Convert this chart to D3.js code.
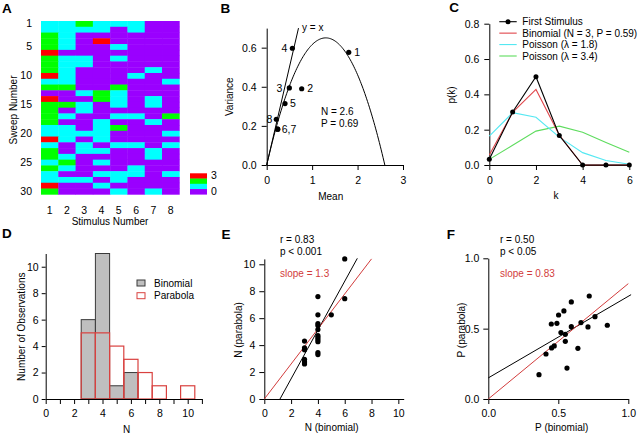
<!DOCTYPE html>
<html><head><meta charset="utf-8">
<script src="https://cdn.jsdelivr.net/npm/d3@7"></script>
<style>
body{margin:0;background:#fff;}
svg{font-family:"Liberation Sans",Arial,Helvetica,sans-serif;}
</style></head><body>
<svg id="c" width="640" height="434"></svg>
<script>
// ---------------- DATA ----------------
// Panel A: number of events per sweep (rows) and stimulus (columns)
const stimuli = [1,2,3,4,5,6,7,8];
const sweeps = [1,2,3,4,5,6,7,8,9,10,11,12,13,14,15,16,17,18,19,20,21,22,23,24,25,26,27,28,29,30];
const sweepCounts = [
 [1,1,2,1,1,1,0,0],
 [1,1,1,1,0,1,0,0],
 [2,1,0,0,0,0,0,0],
 [2,1,0,3,0,0,0,0],
 [2,1,0,0,1,0,0,0],
 [3,0,0,0,0,0,0,0],
 [2,1,1,0,1,0,0,0],
 [2,1,1,0,0,0,0,0],
 [2,1,0,0,0,0,1,0],
 [3,1,0,0,0,1,0,0],
 [1,1,0,0,0,0,0,1],
 [2,2,0,0,2,0,0,0],
 [0,0,1,2,1,0,0,0],
 [3,0,0,2,1,0,1,0],
 [2,2,1,0,1,0,1,0],
 [2,0,1,0,0,0,0,0],
 [2,1,0,0,1,1,0,2],
 [2,0,0,1,0,0,1,0],
 [1,1,0,1,2,0,0,0],
 [1,1,1,1,0,0,0,1],
 [3,1,0,1,0,0,0,0],
 [1,0,1,0,1,1,0,1],
 [2,0,1,1,0,0,1,0],
 [2,1,0,0,0,0,1,0],
 [1,2,0,1,0,0,0,0],
 [2,1,0,0,0,1,0,0],
 [1,0,0,1,1,1,0,1],
 [1,1,1,0,1,0,0,0],
 [3,0,0,1,0,0,0,0],
 [2,0,0,0,1,0,1,0]
];
const countLevels = [0,1,2,3];
const countColors = ["#9a00ff","#00ffff","#00ff00","#ff0000"];

// Panel B: mean / variance per stimulus
const bMeans  = [1.806, 0.770, 0.498, 0.565, 0.403, 0.242, 0.242, 0.212];
const bVars   = [0.576, 0.390, 0.394, 0.597, 0.314, 0.183, 0.183, 0.234];
const bLabels = ["1","2","3","4","5","6,7","","8"];
const bFitN = 2.6;
const bFitP = 0.69;

// Panel C: probability distributions
const cK = [0,1,2,3,4,5,6];
const cFirst    = [0.033, 0.300, 0.500, 0.167, 0, 0, 0];
const cBinomial = [0.057, 0.298, 0.428, 0.170, 0, 0, 0];
const cPois18   = [0.164, 0.296, 0.270, 0.158, 0.070, 0.025, 0.004];
const cPois34   = [0.032, 0.112, 0.192, 0.220, 0.185, 0.127, 0.072];
const cLegend = ["First Stimulus","Binomial (N = 3, P = 0.59)","Poisson (\u03bb = 1.8)","Poisson (\u03bb = 3.4)"];

// Panel D: histograms of N
const dBinomBins   = [3,4,5,6];
const dBinomCounts = [6,11,1,2];
const dParabBins   = [3,4,5,6,7,8,9,10];
const dParabCounts = [5,5,4,3,2,1,0,1];

// Panel E: N binomial vs N parabola
const eBinom = [3,3,3,3,3,3, 4,4,4,4,4,4,4,4,4,4,4, 5, 6,6];
const eParab = [4.3,3.8,3.65,2.95,2.75,2.6, 7.6,6.25,5.6,5.45,5.15,4.7,4.55,4.4,4.25,3.45,3.3, 6.25, 10.4,7.45];
const eFitBlack = {slope:1.81, intercept:-2.12, x0:1.17, x1:6.94};
const eFitRed   = {slope:1.3, intercept:0, x0:0, x1:8.0};

// Panel F: P binomial vs P parabola
const fBinom = [0.362,0.412,0.450,0.452,0.471,0.490,0.502,0.519,0.540,0.550,0.550,0.562,0.593,0.593,0.640,0.662,0.712,0.721,0.762,0.850];
const fParab = [0.173,0.320,0.533,0.363,0.377,0.538,0.597,0.472,0.626,0.460,0.410,0.220,0.690,0.514,0.360,0.543,0.512,0.732,0.585,0.524];
const fFitBlack = {slope:0.58, intercept:0.15, x0:0, x1:1.02};
const fFitRed   = {slope:0.82, intercept:0, x0:0, x1:1.0};

// ---------------- DRAW ----------------
const svg = d3.select("#c");
const FONT = "Liberation Sans, Arial, Helvetica, sans-serif";

function txt(x, y, s, o = {}) {
  const t = svg.append("text").attr("x", x).attr("y", y).text(s)
    .attr("font-size", o.fs || 10).attr("text-anchor", o.anchor || "start")
    .attr("fill", o.fill || "#000").attr("font-family", FONT);
  if (o.bold) t.attr("font-weight", "bold");
  if (o.rot) t.attr("transform", `rotate(-90,${x},${y})`);
  if (o.dy) t.attr("dy", o.dy);
  return t;
}
function styleAxis(g, fs = 10.5) {
  g.attr("font-size", fs).attr("font-family", FONT);
  g.selectAll("text").attr("fill", "#000");
  g.selectAll("line,path").attr("stroke", "#000");
  return g;
}

// ===== Panel A =====
const xA = d3.scaleBand().domain(stimuli).range([41, 179.3]);
const yA = d3.scaleBand().domain(sweeps).range([21, 194.3]);
const colA = d3.scaleOrdinal().domain(countLevels).range(countColors);
sweepCounts.forEach((row, i) => {
  svg.append("g").selectAll("rect").data(row).join("rect")
    .attr("x", (d, j) => xA(stimuli[j]))
    .attr("y", yA(sweeps[i]))
    .attr("width", xA.bandwidth() + 0.4)
    .attr("height", yA.bandwidth() + 0.4)
    .attr("fill", d => colA(d));
});
let g = svg.append("g").attr("transform", "translate(41,0)")
  .call(d3.axisLeft(yA).tickValues([1,5,10,15,20,25,30]).tickSize(0).tickPadding(9));
styleAxis(g); g.select(".domain").remove();
g = svg.append("g").attr("transform", "translate(0,194.3)")
  .call(d3.axisBottom(xA).tickSize(0).tickPadding(12));
styleAxis(g); g.select(".domain").remove();
txt(110, 225, "Stimulus Number", {anchor: "middle"});
txt(13, 110, "Sweep Number", {anchor: "middle", rot: true, dy: "0.35em"});
// color bar
const yCB = d3.scaleBand().domain([3,2,1,0]).range([173.3, 194.3]);
svg.append("g").selectAll("rect").data([3,2,1,0]).join("rect")
  .attr("x", 190).attr("width", 17)
  .attr("y", d => yCB(d)).attr("height", yCB.bandwidth() + 0.3)
  .attr("fill", d => colA(d));
g = svg.append("g").attr("transform", "translate(207,0)")
  .call(d3.axisRight(yCB).tickValues([3,0]).tickSize(0).tickPadding(4));
styleAxis(g); g.select(".domain").remove();
txt(2, 13.3, "A", {fs: 13.5, bold: true});

// ===== Panel B =====
const xB = d3.scaleLinear().domain([0,3]).range([266.7, 403]);
const yB = d3.scaleLinear().domain([0,0.7]).range([165, 28.1]);
g = svg.append("g").attr("transform", "translate(0,165)")
  .call(d3.axisBottom(xB).tickValues([0,1,2,3]).tickFormat(d3.format("d")).tickSize(5).tickPadding(7).tickSizeOuter(0));
styleAxis(g);
g = svg.append("g").attr("transform", "translate(266.7,0)")
  .call(d3.axisLeft(yB).tickValues([0,0.2,0.4,0.6]).tickFormat(d3.format(".1f")).tickSize(5).tickPadding(5).tickSizeOuter(0));
styleAxis(g);
// y = x line
svg.append("path").datum([0, 0.7])
  .attr("d", d3.line().x(d => xB(d)).y(d => yB(d)))
  .attr("stroke", "#000").attr("fill", "none");
txt(302, 30.5, "y = x");
// parabola fit: var = mean - mean^2 / N
const bCurve = d3.range(0, 131).map(i => bFitN * i / 130).map(m => [m, m - m * m / bFitN]);
svg.append("path").datum(bCurve)
  .attr("d", d3.line().x(d => xB(d[0])).y(d => yB(d[1])))
  .attr("stroke", "#000").attr("fill", "none");
svg.append("g").selectAll("circle").data(bMeans).join("circle")
  .attr("cx", d => xB(d)).attr("cy", (d, i) => yB(bVars[i])).attr("r", 2.6).attr("fill", "#000");
const bLabelDx = [5.5, 5.5, -7, -5, 5, 4, 0, -4];
bMeans.forEach((m, i) => {
  if (!bLabels[i]) return;
  const dx = bLabelDx[i];
  txt(xB(m) + dx, yB(bVars[i]), bLabels[i], {anchor: dx > 0 ? "start" : "end", dy: "0.35em", fs: 10.5});
});
txt(321, 114.5, "N = " + bFitN);
txt(321, 127, "P = " + bFitP);
txt(330.7, 200, "Mean", {anchor: "middle"});
txt(230, 96.7, "Variance", {anchor: "middle", rot: true, dy: "0.35em"});
txt(220.5, 13.3, "B", {fs: 13.5, bold: true});

// ===== Panel C =====
const xC = d3.scaleLinear().domain([0,6]).range([489.3, 629.3]);
const yC = d3.scaleLinear().domain([0,0.8]).range([165, 23.7]);
g = svg.append("g").attr("transform", "translate(0,165)")
  .call(d3.axisBottom(xC).tickValues([0,2,4,6]).tickFormat(d3.format("d")).tickSize(5).tickPadding(7).tickSizeOuter(0));
styleAxis(g);
g = svg.append("g").attr("transform", "translate(489.3,0)")
  .call(d3.axisLeft(yC).tickValues([0,0.2,0.4,0.6,0.8]).tickFormat(d3.format(".1f")).tickSize(5).tickPadding(5).tickSizeOuter(0));
styleAxis(g);
const cSeries = [
  {vals: cPois34, color: "#5edc5e"},
  {vals: cPois18, color: "#55e8f2"},
  {vals: cBinomial, color: "#e0464b"},
  {vals: cFirst, color: "#000"}
];
const lineC = d3.line().x((d, i) => xC(cK[i])).y(d => yC(d));
cSeries.forEach(s => {
  svg.append("path").datum(s.vals).attr("d", lineC)
    .attr("stroke", s.color).attr("stroke-width", 1.1).attr("fill", "none");
});
svg.append("g").selectAll("circle").data(cFirst).join("circle")
  .attr("cx", (d, i) => xC(cK[i])).attr("cy", d => yC(d)).attr("r", 2.5).attr("fill", "#000");
const legColors = ["#000", "#e0464b", "#55e8f2", "#5edc5e"];
const legY = d3.scalePoint().domain(cLegend).range([21.7, 56]);
cLegend.forEach((lab, i) => {
  const y = legY(lab);
  svg.append("line").attr("x1", 499.3).attr("x2", 516.7).attr("y1", y).attr("y2", y)
    .attr("stroke", legColors[i]).attr("stroke-width", 1.1);
  if (i === 0) svg.append("circle").attr("cx", 508).attr("cy", y).attr("r", 2.5).attr("fill", "#000");
  txt(522.3, y, lab, {dy: "0.35em"});
});
txt(556, 198.5, "k", {anchor: "middle"});
txt(451.7, 95, "p(k)", {anchor: "middle", rot: true, dy: "0.35em"});
txt(449.3, 12, "C", {fs: 13.5, bold: true});

// ===== Panel D =====
const xD = d3.scaleLinear().domain([0,11]).range([45.7, 201.9]);
const yD = d3.scaleLinear().domain([0,11]).range([399, 253.5]);
svg.append("g").selectAll("rect").data(dBinomBins).join("rect")
  .attr("x", d => xD(d - 0.5)).attr("width", d => xD(d + 0.5) - xD(d - 0.5))
  .attr("y", (d, i) => yD(dBinomCounts[i])).attr("height", (d, i) => yD(0) - yD(dBinomCounts[i]))
  .attr("fill", "#bfbfbf").attr("stroke", "#3a3a3a").attr("stroke-width", 1);
svg.append("g").selectAll("rect").data(dParabBins.filter((d, i) => dParabCounts[i] > 0)).join("rect")
  .attr("x", d => xD(d - 0.5)).attr("width", d => xD(d + 0.5) - xD(d - 0.5))
  .attr("y", d => yD(dParabCounts[dParabBins.indexOf(d)]))
  .attr("height", d => yD(0) - yD(dParabCounts[dParabBins.indexOf(d)]))
  .attr("fill", "none").attr("stroke", "#d9413f").attr("stroke-width", 1.2);
g = svg.append("g").attr("transform", "translate(0,399)")
  .call(d3.axisBottom(xD).tickValues(d3.range(0, 12)).tickFormat(d => d % 2 === 0 && d <= 10 ? d : "").tickSize(5).tickPadding(6).tickSizeOuter(0));
styleAxis(g);
g = svg.append("g").attr("transform", "translate(45.7,0)")
  .call(d3.axisLeft(yD).tickValues([0,2,4,6,8,10]).tickSize(4).tickPadding(3).tickSizeOuter(0));
styleAxis(g);
svg.append("rect").attr("x", 137).attr("y", 280).attr("width", 8).attr("height", 6)
  .attr("fill", "#bfbfbf").attr("stroke", "#3a3a3a");
svg.append("rect").attr("x", 137).attr("y", 292.7).attr("width", 8).attr("height", 6)
  .attr("fill", "#fff").attr("stroke", "#d9413f");
txt(154, 283, "Binomial", {dy: "0.35em"});
txt(154, 295.7, "Parabola", {dy: "0.35em"});
txt(126.7, 432.5, "N", {anchor: "middle"});
txt(21.7, 326.7, "Number of Observations", {anchor: "middle", rot: true, dy: "0.35em"});
txt(2, 238, "D", {fs: 13.5, bold: true});

// ===== Panel E =====
const xE = d3.scaleLinear().domain([0,10.4]).range([264.3, 403.7]);
const yE = d3.scaleLinear().domain([0,10.4]).range([399, 258.9]);
g = svg.append("g").attr("transform", "translate(0,399)")
  .call(d3.axisBottom(xE).tickValues([0,2,4,6,8,10]).tickSize(5).tickPadding(6).tickSizeOuter(0));
styleAxis(g);
g = svg.append("g").attr("transform", "translate(264.3,0)")
  .call(d3.axisLeft(yE).tickValues([0,2,4,6,8,10]).tickSize(5).tickPadding(4).tickSizeOuter(0));
styleAxis(g);
[eFitBlack, eFitRed].forEach((f, k) => {
  svg.append("line")
    .attr("x1", xE(f.x0)).attr("y1", yE(f.intercept + f.slope * f.x0))
    .attr("x2", xE(f.x1)).attr("y2", yE(f.intercept + f.slope * f.x1))
    .attr("stroke", k === 0 ? "#000" : "#d23c3c").attr("stroke-width", 1);
});
svg.append("g").selectAll("circle").data(eBinom).join("circle")
  .attr("cx", d => xE(d)).attr("cy", (d, i) => yE(eParab[i])).attr("r", 2.6).attr("fill", "#000");
txt(280, 243, "r = 0.83");
txt(280, 255, "p < 0.001");
txt(280, 277, "slope = 1.3", {fill: "#d23c3c"});
txt(331.7, 431, "N (binomial)", {anchor: "middle"});
txt(238.3, 330, "N (parabola)", {anchor: "middle", rot: true, dy: "0.35em"});
txt(221.5, 239, "E", {fs: 13.5, bold: true});

// ===== Panel F =====
const xF = d3.scaleLinear().domain([0,1]).range([488.3, 628.3]);
const yF = d3.scaleLinear().domain([0,1]).range([399, 258.3]);
g = svg.append("g").attr("transform", "translate(0,399)")
  .call(d3.axisBottom(xF).tickValues([0,0.5,1]).tickFormat(d3.format(".1f")).tickSize(5).tickPadding(6).tickSizeOuter(0));
styleAxis(g);
g = svg.append("g").attr("transform", "translate(488.3,0)")
  .call(d3.axisLeft(yF).tickValues([0,0.5,1]).tickFormat(d3.format(".1f")).tickSize(5).tickPadding(4).tickSizeOuter(0));
styleAxis(g);
[fFitBlack, fFitRed].forEach((f, k) => {
  svg.append("line")
    .attr("x1", xF(f.x0)).attr("y1", yF(f.intercept + f.slope * f.x0))
    .attr("x2", xF(f.x1)).attr("y2", yF(f.intercept + f.slope * f.x1))
    .attr("stroke", k === 0 ? "#000" : "#d23c3c").attr("stroke-width", 1);
});
svg.append("g").selectAll("circle").data(fBinom).join("circle")
  .attr("cx", d => xF(d)).attr("cy", (d, i) => yF(fParab[i])).attr("r", 2.6).attr("fill", "#000");
txt(500, 243, "r = 0.50");
txt(500, 255, "p < 0.05");
txt(500, 277, "slope = 0.83", {fill: "#d23c3c"});
txt(561.7, 431, "P (binomial)", {anchor: "middle"});
txt(461.7, 330, "P (parabola)", {anchor: "middle", rot: true, dy: "0.35em"});
txt(446.7, 239, "F", {fs: 13.5, bold: true});
</script>
</body></html>
